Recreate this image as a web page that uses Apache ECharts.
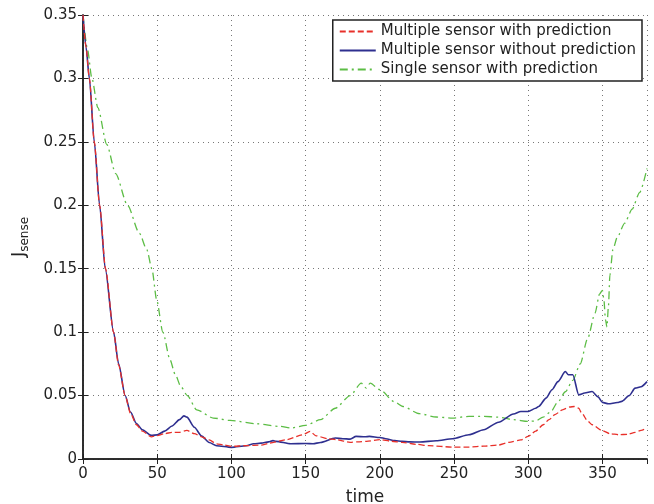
<!DOCTYPE html>
<html>
<head>
<meta charset="utf-8">
<script src="https://cdn.jsdelivr.net/npm/echarts@6/dist/echarts.min.js"></script>
<style>
  html, body { margin: 0; padding: 0; background: #fff; }
  #chart { width: 654px; height: 504px; }
</style>
</head>
<body>
<div id="chart"></div>
<script>
  // time / value pairs
  var multiPred = [
    [0, 0.35], [2, 0.325], [4.3, 0.30], [7.6, 0.25], [11.2, 0.2], [15.2, 0.15], [20.6, 0.1], [24, 0.074], [28.4, 0.05],
    [32, 0.036], [36, 0.027], [40, 0.022], [46, 0.0175], [50, 0.0185], [55, 0.02], [60, 0.021],
    [65, 0.021], [70, 0.0225], [75, 0.02], [80, 0.0175], [85, 0.015], [90, 0.012], [95, 0.011],
    [100, 0.01], [110, 0.0105], [120, 0.011], [126, 0.0126], [137, 0.0152], [148, 0.0191],
    [153, 0.0217], [157, 0.0183], [165, 0.016], [171, 0.0152], [180, 0.0131], [185, 0.0135],
    [191, 0.0139], [200, 0.0152], [208, 0.014], [215, 0.0131], [225, 0.0115], [233, 0.0105],
    [249, 0.0094], [260, 0.0094], [270, 0.0101], [280, 0.011], [287, 0.0131], [295, 0.015],
    [300, 0.0178], [305, 0.022], [310, 0.027], [314, 0.031], [318, 0.035], [323, 0.0388],
    [328, 0.041], [331, 0.0414], [334, 0.04], [336, 0.0362], [340, 0.03], [343, 0.027],
    [350, 0.0223], [355, 0.02], [361, 0.0191], [367, 0.0195], [372, 0.021], [376, 0.0225], [380, 0.0244]
  ]
  var multiNoPred = [
    [0, 0.35], [2, 0.325], [4.3, 0.30], [7.6, 0.25], [11.2, 0.2], [15, 0.15], [20.6, 0.1], [24, 0.075], [28.4, 0.05],
    [32, 0.037], [36, 0.028], [40, 0.023], [46, 0.0186], [50, 0.019], [55, 0.022], [60, 0.026],
    [65, 0.031], [68, 0.034], [70, 0.033], [75, 0.025], [80, 0.018], [85, 0.013], [90, 0.0105],
    [100, 0.0092], [110, 0.0105], [115, 0.012], [120, 0.0125], [125, 0.0135], [128, 0.0145],
    [130, 0.0139], [140, 0.012], [150, 0.0122], [155, 0.012], [160, 0.013], [170, 0.0165],
    [175, 0.016], [180, 0.0157], [184, 0.0178], [190, 0.0175], [193, 0.0178], [200, 0.017],
    [204, 0.016], [210, 0.0145], [215, 0.0139], [220, 0.0135], [227, 0.0134], [238, 0.0144],
    [249, 0.016], [260, 0.0191], [270, 0.0231], [280, 0.029], [290, 0.0355], [295, 0.0375],
    [300, 0.0375], [305, 0.04], [307, 0.0414], [312, 0.048], [316, 0.0546], [320, 0.061],
    [325, 0.069], [327, 0.0664], [330, 0.0664], [334, 0.0506], [338, 0.052], [343, 0.0532],
    [347, 0.049], [350, 0.0446], [354, 0.0435], [360, 0.0445], [363, 0.0454], [368, 0.05],
    [372, 0.0559], [376, 0.057], [380, 0.061]
  ]
  var singlePred = [
    [0, 0.35], [3, 0.323], [6, 0.30], [10, 0.277], [16, 0.248], [22, 0.225], [30, 0.2], [38, 0.178],
    [43, 0.165], [46.4, 0.15], [49.7, 0.125], [53.8, 0.1], [58.7, 0.078], [62, 0.067], [66, 0.057],
    [70.3, 0.05], [76.6, 0.0388], [87.8, 0.0323], [99, 0.0304], [117, 0.0278], [132.6, 0.0257],
    [140, 0.0244], [150, 0.0265], [160, 0.031], [170, 0.04], [180, 0.05], [187.5, 0.0598],
    [190.8, 0.0559], [193.5, 0.0598], [200, 0.0546], [210, 0.045], [215.5, 0.0414], [226.7, 0.0357],
    [238, 0.0331], [249, 0.0323], [260, 0.0336], [270, 0.0336], [280, 0.033], [290, 0.031],
    [300, 0.0296], [305, 0.03], [310, 0.033], [315, 0.037], [320, 0.045], [325, 0.053], [330, 0.062],
    [335, 0.075], [340, 0.095], [345, 0.115], [348, 0.13], [350, 0.133], [351, 0.125], [352, 0.11],
    [353, 0.104], [354, 0.12], [355, 0.145], [357, 0.165], [360, 0.175], [365, 0.186], [370, 0.197],
    [375, 0.21], [380, 0.229]
  ]
  var seriesNames = ['Multiple sensor with prediction', 'Multiple sensor without prediction', 'Single sensor with prediction']

  var font = 'DejaVu Sans'
  var chart = echarts.init(document.getElementById('chart'))
  var hiddenAxis = {
    show: true,
    axisLine: { lineStyle: { color: '#222', width: 1.5 } },
    axisTick: { inside: true, length: 5, lineStyle: { color: '#222' } },
    axisLabel: { show: false },
    splitLine: { show: false },
  }
  var option = {
    animation: false,
    textStyle: { fontFamily: font },
    grid: { left: 83, right: 7, top: 15, bottom: 45, outerBoundsMode: 'none', containLabel: false },
    legend: {
      orient: 'vertical',
      right: 12,
      top: 20,
      itemGap: 4,
      itemWidth: 36,
      itemHeight: 14,
      padding: [4, 6, 4, 6],
      borderColor: '#222',
      borderWidth: 1.5,
      borderRadius: 0,
      backgroundColor: '#fff',
      itemStyle: { opacity: 0 },
      textStyle: { fontFamily: font, fontSize: 15, color: '#222' },
      data: seriesNames,
    },
    xAxis: [{
      type: 'value', min: 0, max: 380, interval: 50,
      name: 'time', nameLocation: 'middle', nameGap: 30,
      nameTextStyle: { fontSize: 17, color: '#222' },
      axisLine: { onZero: false, lineStyle: { color: '#222', width: 1.5 } },
      axisTick: { inside: true, length: 5, lineStyle: { color: '#222' } },
      axisLabel: { fontSize: 15, color: '#222', margin: 8, showMaxLabel: false },
      splitLine: { show: true, lineStyle: { type: [1, 4], color: '#777' } },
    }, Object.assign({ type: 'value', position: 'top', min: 0, max: 380, interval: 50 }, hiddenAxis)],
    yAxis: [{
      type: 'value', min: 0, max: 0.35, interval: 0.05,
      name: '{a|J}{b|sense}', nameLocation: 'middle', nameGap: 52, nameRotate: 90,
      nameTextStyle: {
        color: '#222',
        rich: {
          a: { fontSize: 18, color: '#222', fontFamily: font },
          b: { fontSize: 12, color: '#222', fontFamily: font, padding: [12, 0, 0, 0] },
        },
      },
      axisLine: { onZero: false, lineStyle: { color: '#222', width: 1.5 } },
      axisTick: { inside: true, length: 5, lineStyle: { color: '#222' } },
      axisLabel: { fontSize: 15, color: '#222', margin: 6 },
      splitLine: { show: true, lineStyle: { type: [1, 4], color: '#777' } },
    }, Object.assign({ type: 'value', position: 'right', min: 0, max: 0.35, interval: 0.05 }, hiddenAxis)],
    series: [
      {
        name: seriesNames[0], type: 'line', data: multiPred, symbol: 'none', smooth: 0.25, smoothMonotone: 'x',
        color: '#e8302a', lineStyle: { width: 1.3, type: [6, 3] }, z: 3,
      },
      {
        name: seriesNames[1], type: 'line', data: multiNoPred, symbol: 'none', smooth: 0.25, smoothMonotone: 'x',
        color: '#2e2f8f', lineStyle: { width: 1.6, type: 'solid' }, z: 2,
      },
      {
        name: seriesNames[2], type: 'line', data: singlePred, symbol: 'none', smooth: 0.25, smoothMonotone: 'x',
        color: '#5cbd45', lineStyle: { width: 1.3, type: [8, 4, 2, 4] }, z: 1,
      },
    ],
  }
  chart.setOption(option)
</script>
</body>
</html>
